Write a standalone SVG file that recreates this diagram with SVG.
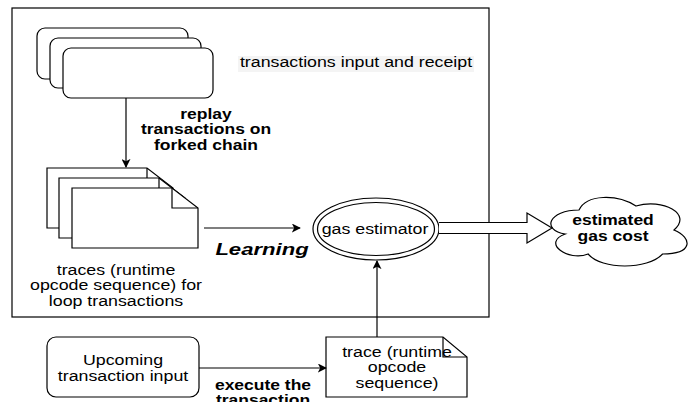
<svg xmlns="http://www.w3.org/2000/svg" width="693" height="402" viewBox="0 0 693 402">
<style>
.s{fill:#fff;stroke:#000;stroke-width:1.2}
.c{fill:none;stroke:#000;stroke-width:1.2}
text{font-family:"Liberation Sans",Arial,Helvetica,sans-serif;font-size:14px;fill:#000;text-anchor:middle}
.b{font-weight:bold}
.L{font-size:17px;font-style:italic;font-weight:bold}
</style>
<defs>
<marker id="ah" viewBox="0 0 10 10" refX="9" refY="5" markerWidth="9" markerHeight="9" markerUnits="userSpaceOnUse" orient="auto">
<path d="M0,0 L10,5 L0,10 L2.5,5 Z" fill="#000"/>
</marker>
</defs>
<rect width="693" height="402" fill="#fff"/>

<g id="frame">
<rect x="12" y="8" width="477" height="309" class="c" stroke-width="1.4"/>
</g>

<g id="transactions">
<rect x="37" y="28" width="151" height="51" rx="8" class="s"/>
<rect x="50" y="38" width="151" height="50" rx="8" class="s"/>
<rect x="63" y="48" width="150" height="50" rx="8" class="s"/>
</g>

<g id="label-receipt">
<rect x="238" y="56" width="236" height="16" fill="#f4f4f4"/>
<text transform="translate(356 67) scale(1.27 1)">transactions input and receipt</text>
</g>

<g id="traces">
<path d="M47,168 H147 L173,188 V228 H47 Z" class="s"/>
<path d="M147,168 V188 H173" class="c"/>
<path d="M59,178 H159 L185,198 V238 H59 Z" class="s"/>
<path d="M159,178 V198 H185" class="c"/>
<path d="M72,188 H172 L198,208 V248 H72 Z" class="s"/>
<path d="M172,188 V208 H198" class="c"/>
<text transform="translate(116 275) scale(1.27 1)"><tspan x="0">traces (runtime</tspan><tspan x="0" dy="15.5">opcode sequence) for</tspan><tspan x="0" dy="15.5">loop transactions</tspan></text>
</g>

<g id="gas-estimator">
<ellipse cx="376" cy="229" rx="63" ry="31" class="s"/>
<ellipse cx="376" cy="229" rx="58.5" ry="26.5" class="c"/>
<text transform="translate(375 234) scale(1.27 1)">gas estimator</text>
</g>

<g id="estimated-cost">
<path d="M579,210 C548.6,210 541,230 565.3,234 C541,242.8 568.4,262 588.1,254 C601.8,270 647.4,270 662.6,254 C693,254 693,238 674,230 C693,214 662.6,198 636,206 C617,194 586.6,194 579,210 Z" class="s"/>
<text class="b" transform="translate(613 225) scale(1.25 1)"><tspan x="0">estimated</tspan><tspan x="0" dy="16">gas cost</tspan></text>
</g>

<g id="upcoming">
<rect x="47" y="337" width="152" height="60" rx="9" class="s"/>
<text transform="translate(123 365) scale(1.27 1)"><tspan x="0">Upcoming</tspan><tspan x="0" dy="16">transaction input</tspan></text>
</g>

<g id="trace">
<path d="M326,337 H443 L467,357 V397 H326 Z" class="s"/>
<path d="M443,337 V357 H467" class="c"/>
<text transform="translate(397 357) scale(1.27 1)"><tspan x="0">trace (runtime</tspan><tspan x="0" dy="15.5">opcode</tspan><tspan x="0" dy="15.5">sequence)</tspan></text>
</g>

<g id="connectors">
<path d="M126,98 V167" class="c" marker-end="url(#ah)"/>
<path d="M204,228 H300" class="c" marker-end="url(#ah)"/>
<path d="M377,337 V261" class="c" marker-end="url(#ah)"/>
<path d="M199,368 H326" class="c" marker-end="url(#ah)"/>
<path d="M439,222.5 H527 V213 L552,228 L527,243 V233.5 H439" class="s"/>
</g>

<g id="labels">
<text class="b" transform="translate(206 119) scale(1.25 1)"><tspan x="0">replay</tspan><tspan x="0" dy="15.5">transactions on</tspan><tspan x="0" dy="15.5">forked chain</tspan></text>
<text class="L" transform="translate(262 255) scale(1.3 1)">Learning</text>
<text class="b" transform="translate(263 390) scale(1.25 1)"><tspan x="0">execute the</tspan><tspan x="0" dy="15.5">transaction</tspan></text>
</g>
</svg>
